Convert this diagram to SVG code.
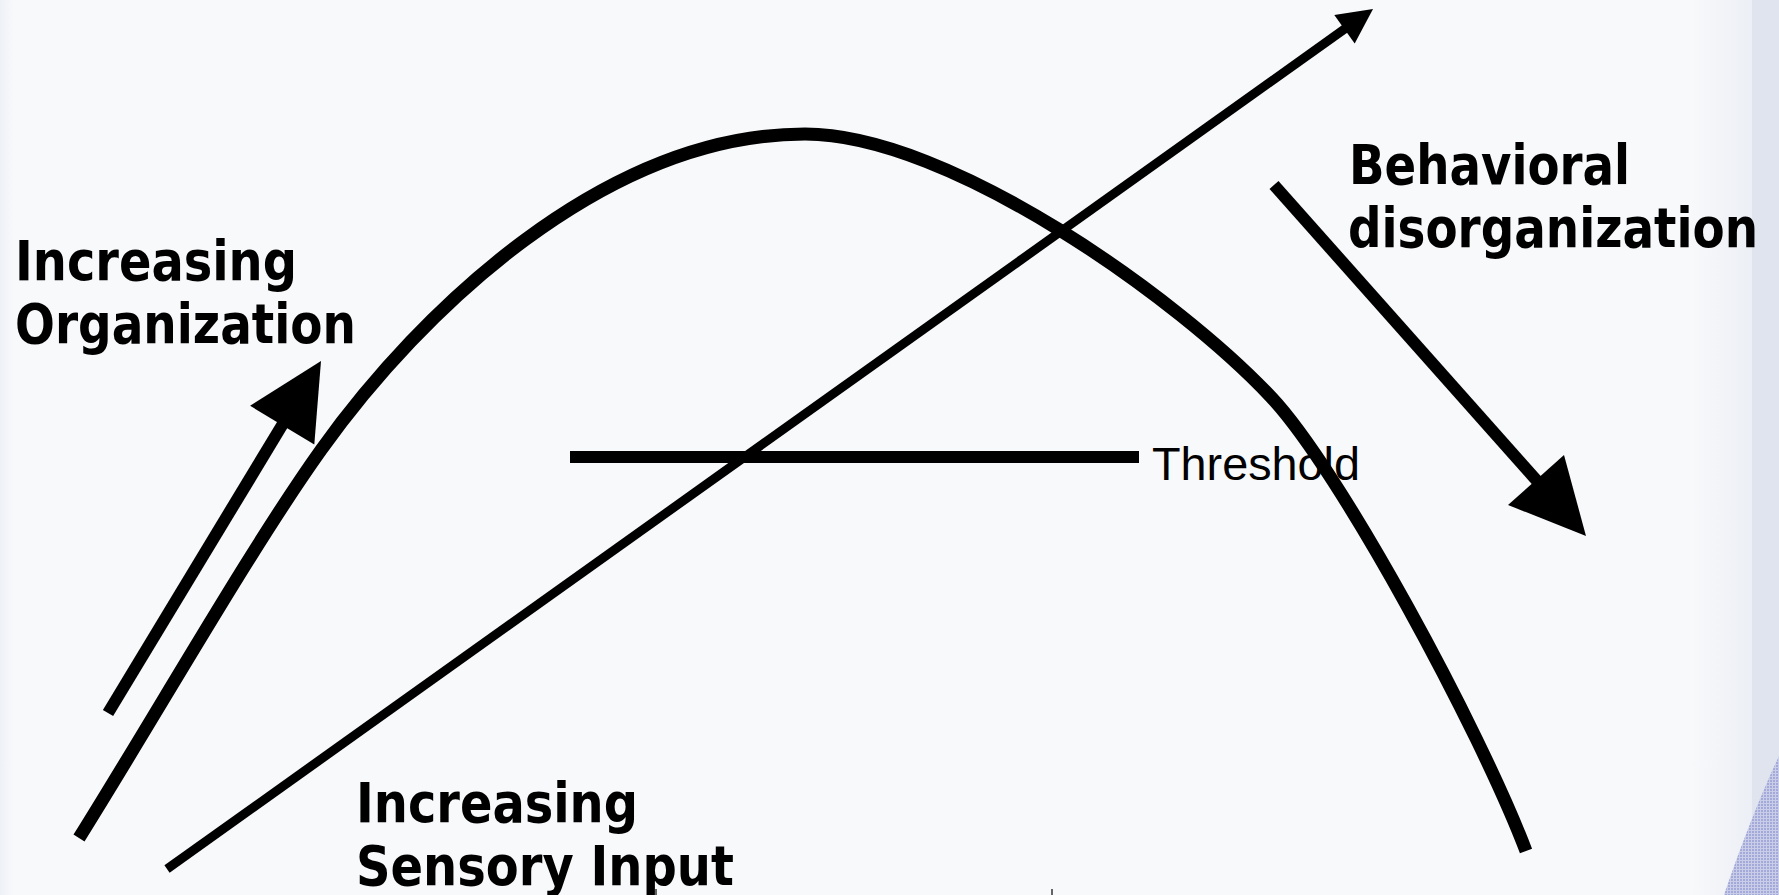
<svg xmlns="http://www.w3.org/2000/svg" width="1779" height="895" viewBox="0 0 1779 895">
  <style>
    .lbl { font-family: "DejaVu Sans Condensed", "DejaVu Sans", sans-serif; font-weight: bold; font-size: 55px; fill: #000; }
    .thr { font-family: "Liberation Sans", Arial, sans-serif; font-size: 46px; fill: #000; }
    .ln { fill: none; stroke: #000; stroke-linecap: butt; }
    .head { fill: #000; stroke: none; }
  </style>
  <defs>
    <linearGradient id="rband" x1="0" y1="0" x2="1" y2="0">
      <stop offset="0" stop-color="#f8f9fb"/>
      <stop offset="1" stop-color="#eceff5"/>
    </linearGradient>
    <linearGradient id="lband" x1="0" y1="0" x2="1" y2="0">
      <stop offset="0" stop-color="#eef1f7"/>
      <stop offset="1" stop-color="#f8f9fb"/>
    </linearGradient>
    <pattern id="dots" width="3" height="3" patternUnits="userSpaceOnUse">
      <rect width="3" height="3" fill="#c9cde8"/>
      <rect width="2" height="2" fill="#a3a9d8"/>
    </pattern>
  </defs>

  <g id="background">
    <rect x="0" y="0" width="1779" height="895" fill="#f8f9fb"/>
    <rect x="0" y="0" width="14" height="895" fill="url(#lband)"/>
    <rect x="1690" y="0" width="62" height="895" fill="url(#rband)"/>
    <rect x="1752" y="0" width="27" height="895" fill="#dfe4ee"/>
    <path d="M1779,756 C1760,796 1740,848 1724,895 L1779,895 Z" fill="url(#dots)"/>
    <line x1="656" y1="889" x2="656" y2="895" stroke="#333" stroke-width="1.5"/>
    <line x1="1052" y1="889" x2="1052" y2="895" stroke="#333" stroke-width="1.5"/>
  </g>

  <g id="connectors">
    <path id="curve" class="ln" stroke-width="13" d="M79,838 C159,710 251,548 321,450 C421,310 605,134 805,134 C950,134 1180,300 1271,397 C1340,470 1480,730 1526,851"/>
    <line id="threshold-line" class="ln" stroke-width="12" x1="570" y1="457" x2="1139" y2="457"/>
    <g id="sensory-arrow">
      <line class="ln" stroke-width="9" x1="167" y1="869" x2="1346" y2="28"/>
      <polygon class="head" points="1373,9 1334.3,15 1354.7,43.5"/>
    </g>
    <g id="organization-arrow">
      <line class="ln" stroke-width="12" x1="108" y1="713" x2="284" y2="422"/>
      <polygon class="head" points="321,361 250.1,405.8 314.3,444.6"/>
    </g>
    <g id="disorganization-arrow">
      <line class="ln" stroke-width="12" x1="1274" y1="185" x2="1538" y2="482"/>
      <polygon class="head" points="1586,536 1564,455 1508,505"/>
    </g>
  </g>

  <g id="label-organization">
    <text class="lbl" x="15" y="280" textLength="282" lengthAdjust="spacingAndGlyphs">Increasing</text>
    <text class="lbl" x="15" y="343" textLength="341" lengthAdjust="spacingAndGlyphs">Organization</text>
  </g>
  <g id="label-disorganization">
    <text class="lbl" x="1349" y="184" textLength="281" lengthAdjust="spacingAndGlyphs">Behavioral</text>
    <text class="lbl" x="1348" y="247" textLength="410" lengthAdjust="spacingAndGlyphs">disorganization</text>
  </g>
  <g id="label-sensory">
    <text class="lbl" x="356" y="822" textLength="282" lengthAdjust="spacingAndGlyphs">Increasing</text>
    <text class="lbl" x="356" y="885" textLength="378" lengthAdjust="spacingAndGlyphs">Sensory Input</text>
  </g>
  <g id="label-threshold">
    <text class="thr" x="1152" y="480" textLength="208" lengthAdjust="spacingAndGlyphs">Threshold</text>
  </g>
</svg>
